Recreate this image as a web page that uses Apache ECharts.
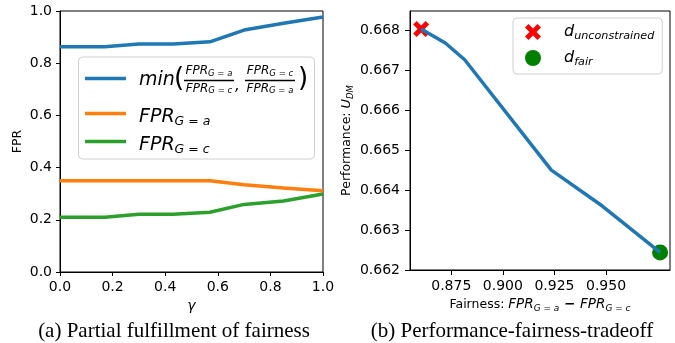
<!DOCTYPE html>
<html><head><meta charset="utf-8">
<script src="https://cdn.jsdelivr.net/npm/echarts@6/dist/echarts.min.js"></script>
<style>html,body{margin:0;padding:0;background:#fff}#c{width:675px;height:343px}</style>
</head><body><div id="c"></div>
<script>
// ---- data (left panel) ----
const gamma = [0, 0.17, 0.3, 0.43, 0.57, 0.7, 0.85, 1.0];
const minRatio = [0.863, 0.863, 0.874, 0.874, 0.882, 0.927, 0.953, 0.977];
const fprA = [0.35, 0.35, 0.35, 0.35, 0.35, 0.334, 0.322, 0.311];
const fprC = [0.21, 0.21, 0.221, 0.221, 0.229, 0.259, 0.272, 0.299];
const leftXTicks = [0, 0.2, 0.4, 0.6, 0.8, 1.0];
const leftYTicks = [0, 0.2, 0.4, 0.6, 0.8, 1.0];
// ---- data (right panel) ----
const fairness = [0.8604, 0.8721, 0.8815, 0.9235, 0.9482, 0.9762];
const performance = [0.66803, 0.66768, 0.66726, 0.6645, 0.6636, 0.66244];
const unconstrained = [0.8604, 0.66803];
const fairPoint = [0.9762, 0.66244];
const rightXTicks = [0.875, 0.9, 0.925, 0.95];
const rightYTicks = [0.662, 0.663, 0.664, 0.665, 0.666, 0.667, 0.668];

const F = 'DejaVu Sans';
const C_BLUE = '#1f77b4', C_ORANGE = '#ff7f0e', C_GREEN = '#2ca02c';

const chart = echarts.init(document.getElementById('c'), null, {renderer: 'canvas'});

function mathRich(main, sub, pad) {
  return {
    m: {fontFamily: F, fontStyle: 'italic', fontSize: main, color: '#000'},
    s: {fontFamily: F, fontStyle: 'italic', fontSize: sub, color: '#000', padding: [pad, 0, 0, 0]},
    t: {fontFamily: F, fontSize: 12.5, color: '#000'},
    o: {fontFamily: F, fontSize: main, color: '#000', fontWeight: 'bold'}
  };
}

const axisCommon = {
  axisLine: {show: true, lineStyle: {color: '#000', width: 1}},
  axisTick: {show: true, length: 4, lineStyle: {color: '#000', width: 1}},
  splitLine: {show: false},
  axisLabel: {fontFamily: F, fontSize: 14, color: '#000'}
};

const xSym = 'path://M0.22,0 L0.5,0.28 L0.78,0 L1,0.22 L0.72,0.5 L1,0.78 L0.78,1 L0.5,0.72 L0.22,1 L0,0.78 L0.28,0.5 L0,0.22 Z';

// left legend graphics (fraction layout)
const fracRich = mathRich(12, 8.5, 5);
const legRich = mathRich(19, 12.5, 9);
const leftLegend = {
  type: 'group', children: [
    {type: 'rect', shape: {x: 78.5, y: 57, width: 236, height: 102, r: 4},
     style: {fill: 'rgba(255,255,255,0.8)', stroke: '#d0d0d0', lineWidth: 1}},
    {type: 'line', shape: {x1: 85, y1: 78.5, x2: 126, y2: 78.5}, style: {stroke: C_BLUE, lineWidth: 3.5}},
    {type: 'line', shape: {x1: 85, y1: 113.5, x2: 126, y2: 113.5}, style: {stroke: C_ORANGE, lineWidth: 3.5}},
    {type: 'line', shape: {x1: 85, y1: 141.5, x2: 126, y2: 141.5}, style: {stroke: C_GREEN, lineWidth: 3.5}},
    {type: 'text', x: 139, y: 80, style: {text: 'min', font: 'italic 19px "DejaVu Sans"', fill: '#000', verticalAlign: 'middle'}},
    {type: 'text', x: 174, y: 79, style: {text: '(', font: '26px "DejaVu Sans"', fill: '#000', verticalAlign: 'middle'}},
    {type: 'text', x: 209, y: 71, style: {text: '{m|FPR}{s|G = a}', rich: fracRich, align: 'center', verticalAlign: 'middle'}},
    {type: 'line', shape: {x1: 184, y1: 80.5, x2: 234, y2: 80.5}, style: {stroke: '#000', lineWidth: 1.5}},
    {type: 'text', x: 209, y: 88.5, style: {text: '{m|FPR}{s|G = c}', rich: fracRich, align: 'center', verticalAlign: 'middle'}},
    {type: 'text', x: 235, y: 86, style: {text: ',', font: 'italic 15px "DejaVu Sans"', fill: '#000', verticalAlign: 'middle'}},
    {type: 'text', x: 270, y: 71, style: {text: '{m|FPR}{s|G = c}', rich: fracRich, align: 'center', verticalAlign: 'middle'}},
    {type: 'line', shape: {x1: 245, y1: 80.5, x2: 295, y2: 80.5}, style: {stroke: '#000', lineWidth: 1.5}},
    {type: 'text', x: 270, y: 88.5, style: {text: '{m|FPR}{s|G = a}', rich: fracRich, align: 'center', verticalAlign: 'middle'}},
    {type: 'text', x: 298, y: 79, style: {text: ')', font: '26px "DejaVu Sans"', fill: '#000', verticalAlign: 'middle'}},
    {type: 'text', x: 139, y: 117, style: {text: '{m|FPR}{s|G = a}', rich: legRich, verticalAlign: 'middle'}},
    {type: 'text', x: 139, y: 145, style: {text: '{m|FPR}{s|G = c}', rich: legRich, verticalAlign: 'middle'}}
  ]
};

const option = {
  backgroundColor: '#fff',
  animation: false,
  grid: [
    {left: 60, top: 11, width: 263, height: 261, show: true, borderColor: '#000', borderWidth: 1, backgroundColor: 'transparent'},
    {left: 410, top: 11, width: 260, height: 259, show: true, borderColor: '#000', borderWidth: 1, backgroundColor: 'transparent'}
  ],
  xAxis: [
    Object.assign({}, axisCommon, {
      gridIndex: 0, type: 'value', min: 0, max: 1, interval: 0.2,
      axisLabel: Object.assign({}, axisCommon.axisLabel, {margin: 8, formatter: v => v.toFixed(1)}),
      name: 'γ', nameLocation: 'middle', nameGap: 17,
      nameTextStyle: {fontFamily: F, fontStyle: 'italic', fontSize: 14, color: '#000'}
    }),
    Object.assign({}, axisCommon, {
      gridIndex: 1, type: 'value', min: 0.855, max: 0.981,
      axisTick: {show: true, length: 5, lineStyle: {color: '#000'}, customValues: rightXTicks},
      axisLabel: Object.assign({}, axisCommon.axisLabel, {margin: 9, customValues: rightXTicks, formatter: v => v.toFixed(3)}),
      name: 'Fairness: {m|FPR}{s|G = a}{o| − }{m|FPR}{s|G = c}', nameLocation: 'middle', nameGap: 19,
      nameTextStyle: {fontFamily: F, fontSize: 12.5, color: '#000', rich: mathRich(13.5, 9, 7)}
    })
  ],
  yAxis: [
    Object.assign({}, axisCommon, {
      gridIndex: 0, type: 'value', min: 0, max: 1, interval: 0.2,
      axisLabel: Object.assign({}, axisCommon.axisLabel, {margin: 8, formatter: v => v.toFixed(1)}),
      name: 'FPR', nameLocation: 'middle', nameGap: 36,
      nameTextStyle: {fontFamily: F, fontSize: 12.5, color: '#000'}
    }),
    Object.assign({}, axisCommon, {
      gridIndex: 1, type: 'value', min: 0.662, max: 0.66848,
      axisTick: {show: true, length: 5, lineStyle: {color: '#000'}, customValues: rightYTicks},
      axisLabel: Object.assign({}, axisCommon.axisLabel, {margin: 10, customValues: rightYTicks, formatter: v => v.toFixed(3)}),
      name: 'Performance: {m|U}{s|DM}', nameLocation: 'middle', nameGap: 55,
      nameTextStyle: {fontFamily: F, fontSize: 12.5, color: '#000', rich: mathRich(13, 8.5, 7)}
    })
  ],
  legend: [{
    show: true, orient: 'vertical', left: 513, top: 18,
    width: 149, height: 54,
    padding: [6, 8, 6, 12],
    borderColor: '#d0d0d0', borderWidth: 1, borderRadius: 4,
    backgroundColor: 'rgba(255,255,255,0.8)',
    itemWidth: 16, itemHeight: 16, itemGap: 8,
    data: ['d_unconstrained', 'd_fair'],
    formatter: function (name) {
      return name === 'd_fair' ? '{sp|}{m|d}{s|fair}' : '{sp|}{m|d}{s|unconstrained}';
    },
    textStyle: {rich: Object.assign(mathRich(16, 11.2, 9), {sp: {width: 18}})}
  }],
  graphic: [
    leftLegend,
    {type: 'text', x: 174, y: 331, style: {text: '(a) Partial fulfillment of fairness', font: '21px "Liberation Serif"', fill: '#000', align: 'center', verticalAlign: 'middle'}},
    {type: 'text', x: 512, y: 331, style: {text: '(b) Performance-fairness-tradeoff', font: '21px "Liberation Serif"', fill: '#000', align: 'center', verticalAlign: 'middle'}}
  ],
  series: [
    {name: 'min(FPR_G=a/FPR_G=c, FPR_G=c/FPR_G=a)', type: 'line', xAxisIndex: 0, yAxisIndex: 0,
     data: gamma.map((g, i) => [g, minRatio[i]]), symbol: 'none', lineStyle: {color: C_BLUE, width: 3.5}, itemStyle: {color: C_BLUE}},
    {name: 'FPR_G=a', type: 'line', xAxisIndex: 0, yAxisIndex: 0,
     data: gamma.map((g, i) => [g, fprA[i]]), symbol: 'none', lineStyle: {color: C_ORANGE, width: 3.5}, itemStyle: {color: C_ORANGE}},
    {name: 'FPR_G=c', type: 'line', xAxisIndex: 0, yAxisIndex: 0,
     data: gamma.map((g, i) => [g, fprC[i]]), symbol: 'none', lineStyle: {color: C_GREEN, width: 3.5}, itemStyle: {color: C_GREEN}},
    {name: 'd_unconstrained', type: 'scatter', xAxisIndex: 1, yAxisIndex: 1,
     data: [unconstrained], symbol: xSym, symbolSize: 16, itemStyle: {color: '#ff0000', opacity: 1}},
    {name: 'd_fair', type: 'scatter', xAxisIndex: 1, yAxisIndex: 1,
     data: [fairPoint], symbol: 'circle', symbolSize: 16, itemStyle: {color: '#008000', opacity: 1}},
    {name: 'tradeoff', type: 'line', xAxisIndex: 1, yAxisIndex: 1,
     data: fairness.map((f, i) => [f, performance[i]]), symbol: 'none', lineStyle: {color: C_BLUE, width: 3.5}, itemStyle: {color: C_BLUE}}
  ]
};
chart.setOption(option);
</script>
</body></html>
